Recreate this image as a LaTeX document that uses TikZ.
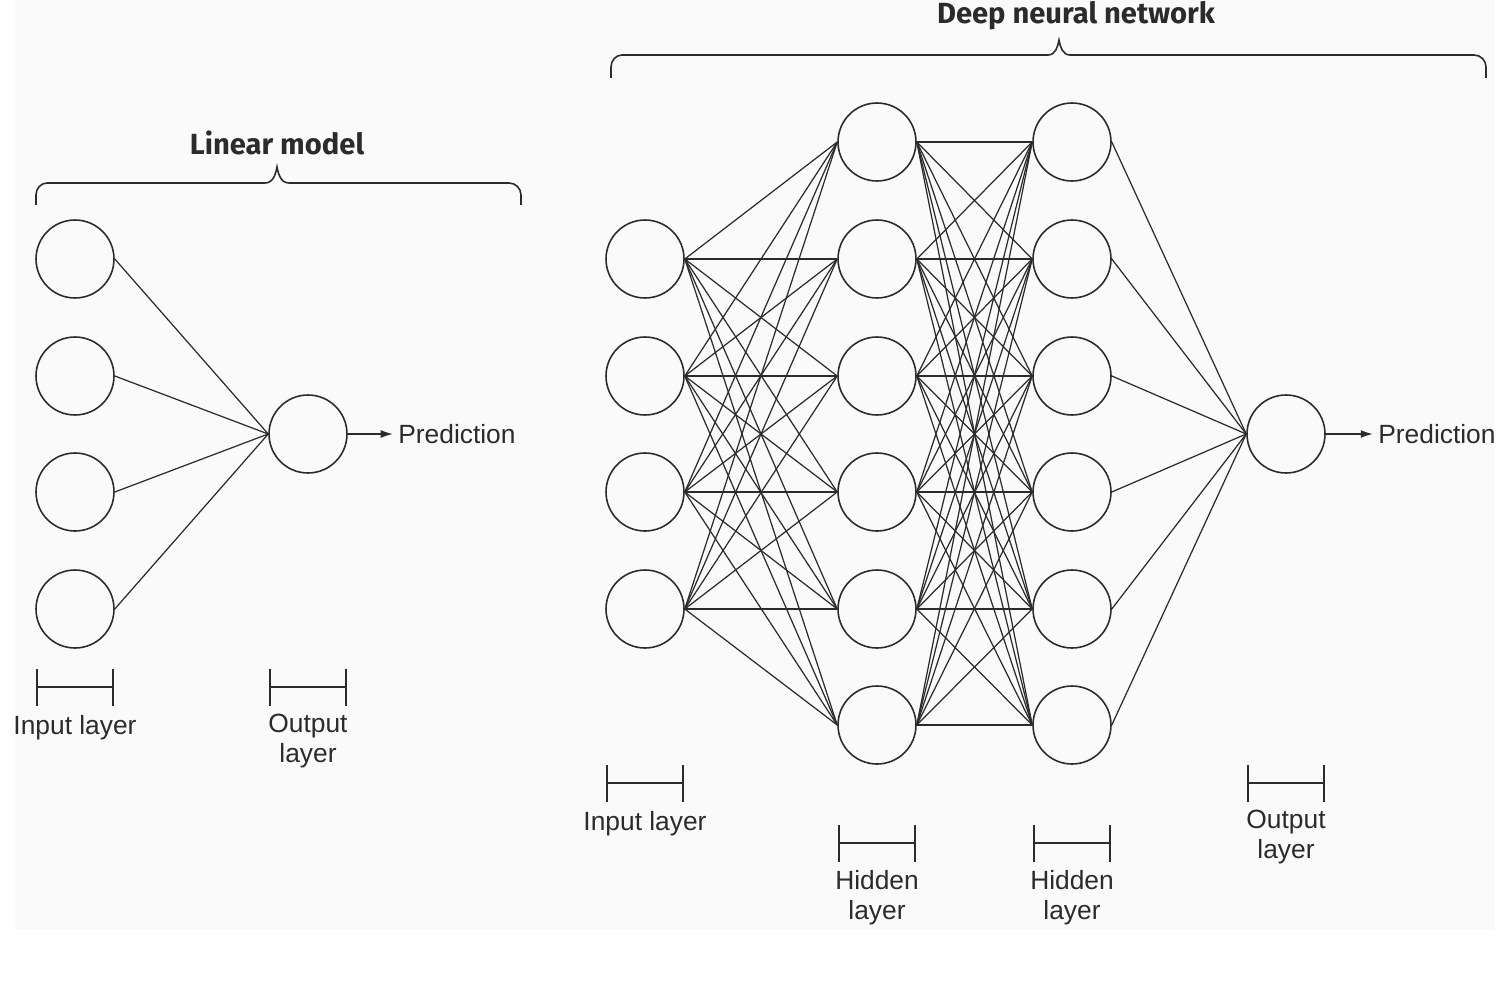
\documentclass[tikz,border=0pt]{standalone}
\usepackage{fontspec}
\setmainfont{Liberation Sans}
\newfontfamily\titlefont{Fira Sans}
\usetikzlibrary{arrows.meta,positioning}
\definecolor{nnline}{HTML}{2B2B2B}
\definecolor{nnbg}{HTML}{FAFAFA}

\begin{document}
\begin{tikzpicture}[
 x=0.02cm,y=-0.02cm,
 neuron/.style={circle,draw=nnline,line width=0.9pt,minimum size=1.56cm,inner sep=0pt},
 conn/.style={draw=nnline,line width=0.7pt},
 predarrow/.style={-{Latex[length=2.4mm,width=1.6mm]},draw=nnline,line width=0.7pt,shorten >=3pt},
 layerbar/.style={{Bar[width=7.4mm]}-{Bar[width=7.4mm]},draw=nnline,line width=0.9pt},
 lbl/.style={font=\fontsize{15}{17}\selectfont,align=center,text=nnline,inner sep=0pt},
 ttl/.style={font=\titlefont\bfseries\fontsize{16.6}{20}\selectfont,text=nnline,inner sep=0pt},
 bracket/.style={draw=nnline,line width=0.9pt}]
\useasboundingbox (0,0) rectangle (1510,983);
\fill[nnbg] (15,0) rectangle (1495,930);

% linear model
\node[ttl] (lintitle) at (277,143) {Linear model};
\draw[bracket] (36,205) -- (36,195) to[out=90,in=180] (47,183) -- (265,183)
  to[out=0,in=-100] (277,167) to[out=-80,in=180] (289,183) -- (509,183)
  to[out=0,in=90] (521,195) -- (521,205);
\foreach \i/\y in {1/259,2/376,3/492,4/609}
  \node[neuron] (lin\i) at (75,\y) {};
\node[neuron] (linout) at (308,434) {};
\foreach \i in {1,...,4}
  \draw[conn] (lin\i.east) -- (linout.west);
\node[lbl,anchor=west] (linpred) at (398,434) {Prediction};
\draw[predarrow] (linout.east) -- (linpred.west);

\draw[layerbar] (36,687) -- (114,687);
\node[lbl] (lininlbl) at (75,728) {Input layer};
\draw[layerbar] (269,687) -- (347,687);
\node[lbl] (linoutlbl) at (308,741) {Output\\layer};

% deep neural network
\node[ttl] (dnntitle) at (1076,16) {Deep neural network};
\draw[bracket] (611,78) -- (611,67) to[out=90,in=180] (622,55) -- (1048,55)
  to[out=0,in=-100] (1059,40) to[out=-80,in=180] (1070,55) -- (1474,55)
  to[out=0,in=90] (1486,67) -- (1486,78);
\foreach \i/\y in {1/259,2/376,3/492,4/609}
  \node[neuron] (dnnin\i) at (645,\y) {};
\foreach \i/\y in {1/142,2/259,3/376,4/492,5/609,6/725} {
  \node[neuron] (dnnha\i) at (877,\y) {};
  \node[neuron] (dnnhb\i) at (1072,\y) {};
}
\node[neuron] (dnnout) at (1286,434) {};
\foreach \i in {1,...,4}
  \foreach \j in {1,...,6}
    \draw[conn] (dnnin\i.east) -- (dnnha\j.west);
\foreach \i in {1,...,6}
  \foreach \j in {1,...,6}
    \draw[conn] (dnnha\i.east) -- (dnnhb\j.west);
\foreach \j in {1,...,6}
  \draw[conn] (dnnhb\j.east) -- (dnnout.west);
\node[lbl,anchor=west] (dnnpred) at (1378,434) {Prediction};
\draw[predarrow] (dnnout.east) -- (dnnpred.west);

\draw[layerbar] (606,783) -- (684,783);
\node[lbl] (dnninlbl) at (645,824) {Input layer};
\draw[layerbar] (838,843) -- (916,843);
\node[lbl] (dnnhalbl) at (877,898) {Hidden\\layer};
\draw[layerbar] (1033,843) -- (1111,843);
\node[lbl] (dnnhblbl) at (1072,898) {Hidden\\layer};
\draw[layerbar] (1247,783) -- (1325,783);
\node[lbl] (dnnoutlbl) at (1286,837) {Output\\layer};
\end{tikzpicture}
\end{document}
